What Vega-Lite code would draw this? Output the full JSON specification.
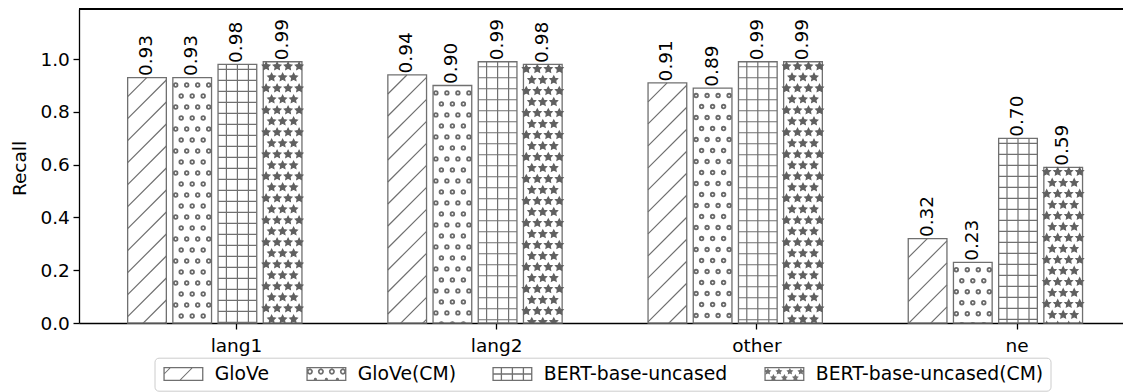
{
  "$schema": "https://vega.github.io/schema/vega-lite/v6.json",
  "width": 1044,
  "height": 314,
  "autosize": {"type": "none"},
  "padding": {"left": 79, "top": 9, "right": 0, "bottom": 69},
  "background": "white",
  "config": {
    "view": {"stroke": null},
    "font": "DejaVu Sans",
    "axis": {
      "labelFont": "DejaVu Sans", "labelFontSize": 18.5, "labelColor": "black",
      "titleFont": "DejaVu Sans", "titleFontSize": 18.5, "titleFontWeight": "normal", "titleColor": "black",
      "tickColor": "black", "tickWidth": 1.3, "tickSize": 6, "domain": true, "domainColor": "black", "domainWidth": 1.3, "grid": false
    }
  },
  "data": {
    "values": [
      {"group": "lang1", "series": "GloVe", "value": 0.93},
      {"group": "lang1", "series": "GloVe(CM)", "value": 0.93},
      {"group": "lang1", "series": "BERT-base-uncased", "value": 0.98},
      {"group": "lang1", "series": "BERT-base-uncased(CM)", "value": 0.99},
      {"group": "lang2", "series": "GloVe", "value": 0.94},
      {"group": "lang2", "series": "GloVe(CM)", "value": 0.90},
      {"group": "lang2", "series": "BERT-base-uncased", "value": 0.99},
      {"group": "lang2", "series": "BERT-base-uncased(CM)", "value": 0.98},
      {"group": "other", "series": "GloVe", "value": 0.91},
      {"group": "other", "series": "GloVe(CM)", "value": 0.89},
      {"group": "other", "series": "BERT-base-uncased", "value": 0.99},
      {"group": "other", "series": "BERT-base-uncased(CM)", "value": 0.99},
      {"group": "ne", "series": "GloVe", "value": 0.32},
      {"group": "ne", "series": "GloVe(CM)", "value": 0.23},
      {"group": "ne", "series": "BERT-base-uncased", "value": 0.70},
      {"group": "ne", "series": "BERT-base-uncased(CM)", "value": 0.59}
    ]
  },
  "layer": [
    {
      "encoding": {
        "x": {
          "field": "group", "type": "nominal",
          "scale": {"domain": ["lang1", "lang2", "other", "ne"], "paddingInner": 0.30515, "paddingOuter": 0.158725, "align": 0.5496, "round": false},
          "axis": {"title": null, "labelAngle": 0, "labelPadding": 7.5, "tickOffset": 21.2}
        },
        "xOffset": {
          "field": "series", "type": "nominal",
          "scale": {"domain": ["GloVe", "GloVe(CM)", "BERT-base-uncased", "BERT-base-uncased(CM)"], "paddingInner": 0.1438, "paddingOuter": 0.0719, "round": false}
        },
        "y": {
          "field": "value", "type": "quantitative",
          "scale": {"domain": [0, 1.19], "nice": false, "zero": true},
          "axis": {"title": "Recall", "values": [0, 0.2, 0.4, 0.6, 0.8, 1.0], "format": ".1f", "labelPadding": 3.7, "titleAngle": 270, "titleX": -54, "titleY": 159, "titleAlign": "center", "titleBaseline": "alphabetic"}
        }
      },
      "layer": [
        {"mark": {"type": "bar", "fill": "white", "stroke": "#707070", "strokeWidth": 1.3}},
        {
          "transform": [{"filter": "datum.series === 'GloVe'"}],
          "mark": {"type": "point", "size": 4, "filled": false, "color": "#707070", "stroke": "#707070", "strokeWidth": 1.2, "opacity": 1, "clip": true,
            "shape": "M-19.35,19.05L-0.3,0M-19.35,41.05l38.7,-38.7m-38.7,60.7l38.7,-38.7m-38.7,60.7l38.7,-38.7m-38.7,60.7l38.7,-38.7m-38.7,60.7l38.7,-38.7m-38.7,60.7l38.7,-38.7m-38.7,60.7l38.7,-38.7m-38.7,60.7l38.7,-38.7m-38.7,60.7l38.7,-38.7m-38.7,60.7l38.7,-38.7m-38.7,60.7l38.7,-38.7m-38.7,60.7l38.7,-38.7m-38.7,60.7"}
        },
        {
          "transform": [{"filter": "datum.series === 'GloVe(CM)'"}],
          "mark": {"type": "point", "size": 4, "filled": false, "color": "#6a6a6a", "stroke": "#6a6a6a", "strokeWidth": 5.4, "strokeDash": [0, 22], "strokeCap": "round", "opacity": 1, "clip": true,
            "shape": "M-16.5,7.4v300M-5.5,7.4v300M5.5,7.4v300M16.5,7.4v300M-11,18.4v300M0,18.4v300M11,18.4v300"}
        },
        {
          "transform": [{"filter": "datum.series === 'GloVe(CM)'"}],
          "mark": {"type": "point", "size": 4, "filled": false, "color": "white", "stroke": "white", "strokeWidth": 1.8, "strokeDash": [0, 22], "strokeCap": "round", "opacity": 1, "clip": true,
            "shape": "M-16.5,7.4v300M-5.5,7.4v300M5.5,7.4v300M16.5,7.4v300M-11,18.4v300M0,18.4v300M11,18.4v300"}
        },
        {
          "transform": [{"filter": "datum.series === 'BERT-base-uncased'"}],
          "mark": {"type": "point", "size": 4, "filled": false, "color": "#707070", "stroke": "#707070", "strokeWidth": 1.2, "opacity": 1, "clip": true,
            "shape": "M-11,0v265M0,0v265M11,0v265M-19.35,5h38.7m-38.7,11h38.7m-38.7,11h38.7m-38.7,11h38.7m-38.7,11h38.7m-38.7,11h38.7m-38.7,11h38.7m-38.7,11h38.7m-38.7,11h38.7m-38.7,11h38.7m-38.7,11h38.7m-38.7,11h38.7m-38.7,11h38.7m-38.7,11h38.7m-38.7,11h38.7m-38.7,11h38.7m-38.7,11h38.7m-38.7,11h38.7m-38.7,11h38.7m-38.7,11h38.7m-38.7,11h38.7m-38.7,11h38.7m-38.7,11h38.7m-38.7,11h38.7"}
        },
        {
          "transform": [{"filter": "datum.series === 'BERT-base-uncased(CM)'"}],
          "mark": {"type": "point", "size": 4, "filled": true, "color": "#606060", "fill": "#606060", "stroke": "#606060", "strokeWidth": 1.1, "opacity": 1, "clip": true,
            "shape": "M-16.5,0.5l1.18,2.38l2.63,0.38l-1.9,1.86l0.45,2.62l-2.36,-1.23l-2.36,1.23l0.45,-2.62l-1.9,-1.86l2.63,-0.38zm11,0l1.18,2.38l2.63,0.38l-1.9,1.86l0.45,2.62l-2.36,-1.23l-2.36,1.23l0.45,-2.62l-1.9,-1.86l2.63,-0.38zm11,0l1.18,2.38l2.63,0.38l-1.9,1.86l0.45,2.62l-2.36,-1.23l-2.36,1.23l0.45,-2.62l-1.9,-1.86l2.63,-0.38zm11,0l1.18,2.38l2.63,0.38l-1.9,1.86l0.45,2.62l-2.36,-1.23l-2.36,1.23l0.45,-2.62l-1.9,-1.86l2.63,-0.38zm-27.5,11l1.18,2.38l2.63,0.38l-1.9,1.86l0.45,2.62l-2.36,-1.23l-2.36,1.23l0.45,-2.62l-1.9,-1.86l2.63,-0.38zm11,0l1.18,2.38l2.63,0.38l-1.9,1.86l0.45,2.62l-2.36,-1.23l-2.36,1.23l0.45,-2.62l-1.9,-1.86l2.63,-0.38zm11,0l1.18,2.38l2.63,0.38l-1.9,1.86l0.45,2.62l-2.36,-1.23l-2.36,1.23l0.45,-2.62l-1.9,-1.86l2.63,-0.38zm-27.5,11l1.18,2.38l2.63,0.38l-1.9,1.86l0.45,2.62l-2.36,-1.23l-2.36,1.23l0.45,-2.62l-1.9,-1.86l2.63,-0.38zm11,0l1.18,2.38l2.63,0.38l-1.9,1.86l0.45,2.62l-2.36,-1.23l-2.36,1.23l0.45,-2.62l-1.9,-1.86l2.63,-0.38zm11,0l1.18,2.38l2.63,0.38l-1.9,1.86l0.45,2.62l-2.36,-1.23l-2.36,1.23l0.45,-2.62l-1.9,-1.86l2.63,-0.38zm11,0l1.18,2.38l2.63,0.38l-1.9,1.86l0.45,2.62l-2.36,-1.23l-2.36,1.23l0.45,-2.62l-1.9,-1.86l2.63,-0.38zm-27.5,11l1.18,2.38l2.63,0.38l-1.9,1.86l0.45,2.62l-2.36,-1.23l-2.36,1.23l0.45,-2.62l-1.9,-1.86l2.63,-0.38zm11,0l1.18,2.38l2.63,0.38l-1.9,1.86l0.45,2.62l-2.36,-1.23l-2.36,1.23l0.45,-2.62l-1.9,-1.86l2.63,-0.38zm11,0l1.18,2.38l2.63,0.38l-1.9,1.86l0.45,2.62l-2.36,-1.23l-2.36,1.23l0.45,-2.62l-1.9,-1.86l2.63,-0.38zm-27.5,11l1.18,2.38l2.63,0.38l-1.9,1.86l0.45,2.62l-2.36,-1.23l-2.36,1.23l0.45,-2.62l-1.9,-1.86l2.63,-0.38zm11,0l1.18,2.38l2.63,0.38l-1.9,1.86l0.45,2.62l-2.36,-1.23l-2.36,1.23l0.45,-2.62l-1.9,-1.86l2.63,-0.38zm11,0l1.18,2.38l2.63,0.38l-1.9,1.86l0.45,2.62l-2.36,-1.23l-2.36,1.23l0.45,-2.62l-1.9,-1.86l2.63,-0.38zm11,0l1.18,2.38l2.63,0.38l-1.9,1.86l0.45,2.62l-2.36,-1.23l-2.36,1.23l0.45,-2.62l-1.9,-1.86l2.63,-0.38zm-27.5,11l1.18,2.38l2.63,0.38l-1.9,1.86l0.45,2.62l-2.36,-1.23l-2.36,1.23l0.45,-2.62l-1.9,-1.86l2.63,-0.38zm11,0l1.18,2.38l2.63,0.38l-1.9,1.86l0.45,2.62l-2.36,-1.23l-2.36,1.23l0.45,-2.62l-1.9,-1.86l2.63,-0.38zm11,0l1.18,2.38l2.63,0.38l-1.9,1.86l0.45,2.62l-2.36,-1.23l-2.36,1.23l0.45,-2.62l-1.9,-1.86l2.63,-0.38zm-27.5,11M-16.5,66.5l1.18,2.38l2.63,0.38l-1.9,1.86l0.45,2.62l-2.36,-1.23l-2.36,1.23l0.45,-2.62l-1.9,-1.86l2.63,-0.38zm11,0l1.18,2.38l2.63,0.38l-1.9,1.86l0.45,2.62l-2.36,-1.23l-2.36,1.23l0.45,-2.62l-1.9,-1.86l2.63,-0.38zm11,0l1.18,2.38l2.63,0.38l-1.9,1.86l0.45,2.62l-2.36,-1.23l-2.36,1.23l0.45,-2.62l-1.9,-1.86l2.63,-0.38zm11,0l1.18,2.38l2.63,0.38l-1.9,1.86l0.45,2.62l-2.36,-1.23l-2.36,1.23l0.45,-2.62l-1.9,-1.86l2.63,-0.38zm-27.5,11l1.18,2.38l2.63,0.38l-1.9,1.86l0.45,2.62l-2.36,-1.23l-2.36,1.23l0.45,-2.62l-1.9,-1.86l2.63,-0.38zm11,0l1.18,2.38l2.63,0.38l-1.9,1.86l0.45,2.62l-2.36,-1.23l-2.36,1.23l0.45,-2.62l-1.9,-1.86l2.63,-0.38zm11,0l1.18,2.38l2.63,0.38l-1.9,1.86l0.45,2.62l-2.36,-1.23l-2.36,1.23l0.45,-2.62l-1.9,-1.86l2.63,-0.38zm-27.5,11l1.18,2.38l2.63,0.38l-1.9,1.86l0.45,2.62l-2.36,-1.23l-2.36,1.23l0.45,-2.62l-1.9,-1.86l2.63,-0.38zm11,0l1.18,2.38l2.63,0.38l-1.9,1.86l0.45,2.62l-2.36,-1.23l-2.36,1.23l0.45,-2.62l-1.9,-1.86l2.63,-0.38zm11,0l1.18,2.38l2.63,0.38l-1.9,1.86l0.45,2.62l-2.36,-1.23l-2.36,1.23l0.45,-2.62l-1.9,-1.86l2.63,-0.38zm11,0l1.18,2.38l2.63,0.38l-1.9,1.86l0.45,2.62l-2.36,-1.23l-2.36,1.23l0.45,-2.62l-1.9,-1.86l2.63,-0.38zm-27.5,11l1.18,2.38l2.63,0.38l-1.9,1.86l0.45,2.62l-2.36,-1.23l-2.36,1.23l0.45,-2.62l-1.9,-1.86l2.63,-0.38zm11,0l1.18,2.38l2.63,0.38l-1.9,1.86l0.45,2.62l-2.36,-1.23l-2.36,1.23l0.45,-2.62l-1.9,-1.86l2.63,-0.38zm11,0l1.18,2.38l2.63,0.38l-1.9,1.86l0.45,2.62l-2.36,-1.23l-2.36,1.23l0.45,-2.62l-1.9,-1.86l2.63,-0.38zm-27.5,11l1.18,2.38l2.63,0.38l-1.9,1.86l0.45,2.62l-2.36,-1.23l-2.36,1.23l0.45,-2.62l-1.9,-1.86l2.63,-0.38zm11,0l1.18,2.38l2.63,0.38l-1.9,1.86l0.45,2.62l-2.36,-1.23l-2.36,1.23l0.45,-2.62l-1.9,-1.86l2.63,-0.38zm11,0l1.18,2.38l2.63,0.38l-1.9,1.86l0.45,2.62l-2.36,-1.23l-2.36,1.23l0.45,-2.62l-1.9,-1.86l2.63,-0.38zm11,0l1.18,2.38l2.63,0.38l-1.9,1.86l0.45,2.62l-2.36,-1.23l-2.36,1.23l0.45,-2.62l-1.9,-1.86l2.63,-0.38zm-27.5,11l1.18,2.38l2.63,0.38l-1.9,1.86l0.45,2.62l-2.36,-1.23l-2.36,1.23l0.45,-2.62l-1.9,-1.86l2.63,-0.38zm11,0l1.18,2.38l2.63,0.38l-1.9,1.86l0.45,2.62l-2.36,-1.23l-2.36,1.23l0.45,-2.62l-1.9,-1.86l2.63,-0.38zm11,0l1.18,2.38l2.63,0.38l-1.9,1.86l0.45,2.62l-2.36,-1.23l-2.36,1.23l0.45,-2.62l-1.9,-1.86l2.63,-0.38zm-27.5,11M-16.5,132.5l1.18,2.38l2.63,0.38l-1.9,1.86l0.45,2.62l-2.36,-1.23l-2.36,1.23l0.45,-2.62l-1.9,-1.86l2.63,-0.38zm11,0l1.18,2.38l2.63,0.38l-1.9,1.86l0.45,2.62l-2.36,-1.23l-2.36,1.23l0.45,-2.62l-1.9,-1.86l2.63,-0.38zm11,0l1.18,2.38l2.63,0.38l-1.9,1.86l0.45,2.62l-2.36,-1.23l-2.36,1.23l0.45,-2.62l-1.9,-1.86l2.63,-0.38zm11,0l1.18,2.38l2.63,0.38l-1.9,1.86l0.45,2.62l-2.36,-1.23l-2.36,1.23l0.45,-2.62l-1.9,-1.86l2.63,-0.38zm-27.5,11l1.18,2.38l2.63,0.38l-1.9,1.86l0.45,2.62l-2.36,-1.23l-2.36,1.23l0.45,-2.62l-1.9,-1.86l2.63,-0.38zm11,0l1.18,2.38l2.63,0.38l-1.9,1.86l0.45,2.62l-2.36,-1.23l-2.36,1.23l0.45,-2.62l-1.9,-1.86l2.63,-0.38zm11,0l1.18,2.38l2.63,0.38l-1.9,1.86l0.45,2.62l-2.36,-1.23l-2.36,1.23l0.45,-2.62l-1.9,-1.86l2.63,-0.38zm-27.5,11l1.18,2.38l2.63,0.38l-1.9,1.86l0.45,2.62l-2.36,-1.23l-2.36,1.23l0.45,-2.62l-1.9,-1.86l2.63,-0.38zm11,0l1.18,2.38l2.63,0.38l-1.9,1.86l0.45,2.62l-2.36,-1.23l-2.36,1.23l0.45,-2.62l-1.9,-1.86l2.63,-0.38zm11,0l1.18,2.38l2.63,0.38l-1.9,1.86l0.45,2.62l-2.36,-1.23l-2.36,1.23l0.45,-2.62l-1.9,-1.86l2.63,-0.38zm11,0l1.18,2.38l2.63,0.38l-1.9,1.86l0.45,2.62l-2.36,-1.23l-2.36,1.23l0.45,-2.62l-1.9,-1.86l2.63,-0.38zm-27.5,11l1.18,2.38l2.63,0.38l-1.9,1.86l0.45,2.62l-2.36,-1.23l-2.36,1.23l0.45,-2.62l-1.9,-1.86l2.63,-0.38zm11,0l1.18,2.38l2.63,0.38l-1.9,1.86l0.45,2.62l-2.36,-1.23l-2.36,1.23l0.45,-2.62l-1.9,-1.86l2.63,-0.38zm11,0l1.18,2.38l2.63,0.38l-1.9,1.86l0.45,2.62l-2.36,-1.23l-2.36,1.23l0.45,-2.62l-1.9,-1.86l2.63,-0.38zm-27.5,11l1.18,2.38l2.63,0.38l-1.9,1.86l0.45,2.62l-2.36,-1.23l-2.36,1.23l0.45,-2.62l-1.9,-1.86l2.63,-0.38zm11,0l1.18,2.38l2.63,0.38l-1.9,1.86l0.45,2.62l-2.36,-1.23l-2.36,1.23l0.45,-2.62l-1.9,-1.86l2.63,-0.38zm11,0l1.18,2.38l2.63,0.38l-1.9,1.86l0.45,2.62l-2.36,-1.23l-2.36,1.23l0.45,-2.62l-1.9,-1.86l2.63,-0.38zm11,0l1.18,2.38l2.63,0.38l-1.9,1.86l0.45,2.62l-2.36,-1.23l-2.36,1.23l0.45,-2.62l-1.9,-1.86l2.63,-0.38zm-27.5,11l1.18,2.38l2.63,0.38l-1.9,1.86l0.45,2.62l-2.36,-1.23l-2.36,1.23l0.45,-2.62l-1.9,-1.86l2.63,-0.38zm11,0l1.18,2.38l2.63,0.38l-1.9,1.86l0.45,2.62l-2.36,-1.23l-2.36,1.23l0.45,-2.62l-1.9,-1.86l2.63,-0.38zm11,0l1.18,2.38l2.63,0.38l-1.9,1.86l0.45,2.62l-2.36,-1.23l-2.36,1.23l0.45,-2.62l-1.9,-1.86l2.63,-0.38zm-27.5,11M-16.5,198.5l1.18,2.38l2.63,0.38l-1.9,1.86l0.45,2.62l-2.36,-1.23l-2.36,1.23l0.45,-2.62l-1.9,-1.86l2.63,-0.38zm11,0l1.18,2.38l2.63,0.38l-1.9,1.86l0.45,2.62l-2.36,-1.23l-2.36,1.23l0.45,-2.62l-1.9,-1.86l2.63,-0.38zm11,0l1.18,2.38l2.63,0.38l-1.9,1.86l0.45,2.62l-2.36,-1.23l-2.36,1.23l0.45,-2.62l-1.9,-1.86l2.63,-0.38zm11,0l1.18,2.38l2.63,0.38l-1.9,1.86l0.45,2.62l-2.36,-1.23l-2.36,1.23l0.45,-2.62l-1.9,-1.86l2.63,-0.38zm-27.5,11l1.18,2.38l2.63,0.38l-1.9,1.86l0.45,2.62l-2.36,-1.23l-2.36,1.23l0.45,-2.62l-1.9,-1.86l2.63,-0.38zm11,0l1.18,2.38l2.63,0.38l-1.9,1.86l0.45,2.62l-2.36,-1.23l-2.36,1.23l0.45,-2.62l-1.9,-1.86l2.63,-0.38zm11,0l1.18,2.38l2.63,0.38l-1.9,1.86l0.45,2.62l-2.36,-1.23l-2.36,1.23l0.45,-2.62l-1.9,-1.86l2.63,-0.38zm-27.5,11l1.18,2.38l2.63,0.38l-1.9,1.86l0.45,2.62l-2.36,-1.23l-2.36,1.23l0.45,-2.62l-1.9,-1.86l2.63,-0.38zm11,0l1.18,2.38l2.63,0.38l-1.9,1.86l0.45,2.62l-2.36,-1.23l-2.36,1.23l0.45,-2.62l-1.9,-1.86l2.63,-0.38zm11,0l1.18,2.38l2.63,0.38l-1.9,1.86l0.45,2.62l-2.36,-1.23l-2.36,1.23l0.45,-2.62l-1.9,-1.86l2.63,-0.38zm11,0l1.18,2.38l2.63,0.38l-1.9,1.86l0.45,2.62l-2.36,-1.23l-2.36,1.23l0.45,-2.62l-1.9,-1.86l2.63,-0.38zm-27.5,11l1.18,2.38l2.63,0.38l-1.9,1.86l0.45,2.62l-2.36,-1.23l-2.36,1.23l0.45,-2.62l-1.9,-1.86l2.63,-0.38zm11,0l1.18,2.38l2.63,0.38l-1.9,1.86l0.45,2.62l-2.36,-1.23l-2.36,1.23l0.45,-2.62l-1.9,-1.86l2.63,-0.38zm11,0l1.18,2.38l2.63,0.38l-1.9,1.86l0.45,2.62l-2.36,-1.23l-2.36,1.23l0.45,-2.62l-1.9,-1.86l2.63,-0.38zm-27.5,11l1.18,2.38l2.63,0.38l-1.9,1.86l0.45,2.62l-2.36,-1.23l-2.36,1.23l0.45,-2.62l-1.9,-1.86l2.63,-0.38zm11,0l1.18,2.38l2.63,0.38l-1.9,1.86l0.45,2.62l-2.36,-1.23l-2.36,1.23l0.45,-2.62l-1.9,-1.86l2.63,-0.38zm11,0l1.18,2.38l2.63,0.38l-1.9,1.86l0.45,2.62l-2.36,-1.23l-2.36,1.23l0.45,-2.62l-1.9,-1.86l2.63,-0.38zm11,0l1.18,2.38l2.63,0.38l-1.9,1.86l0.45,2.62l-2.36,-1.23l-2.36,1.23l0.45,-2.62l-1.9,-1.86l2.63,-0.38zm-27.5,11l1.18,2.38l2.63,0.38l-1.9,1.86l0.45,2.62l-2.36,-1.23l-2.36,1.23l0.45,-2.62l-1.9,-1.86l2.63,-0.38zm11,0l1.18,2.38l2.63,0.38l-1.9,1.86l0.45,2.62l-2.36,-1.23l-2.36,1.23l0.45,-2.62l-1.9,-1.86l2.63,-0.38zm11,0l1.18,2.38l2.63,0.38l-1.9,1.86l0.45,2.62l-2.36,-1.23l-2.36,1.23l0.45,-2.62l-1.9,-1.86l2.63,-0.38zm-27.5,11"}
        },
        {
          "mark": {"type": "text", "angle": 270, "align": "left", "baseline": "middle", "dx": 1.5, "dy": -1, "fontSize": 18.5, "font": "DejaVu Sans", "color": "black"},
          "encoding": {"text": {"field": "value", "type": "quantitative", "format": ".2f"}}
        },
        {
          "transform": [{"filter": "false"}],
          "mark": {"type": "point", "filled": true, "opacity": 1, "color": "#707070"},
          "encoding": {
            "shape": {
              "field": "series", "type": "nominal",
              "scale": {
                "domain": ["GloVe", "GloVe(CM)", "BERT-base-uncased", "BERT-base-uncased(CM)"],
                "range": [
                  "M-1,-1H4.7143V1H-1ZM-0.8143,-0.8143V0.8143H4.5286V-0.8143ZM-0.8143,-0.1857L-0.1857,-0.8143L0.0143,-0.8143L-0.8143,0.0143ZM1.3286,0.8143L2.9571,-0.8143L3.1571,-0.8143L1.5286,0.8143Z",
                  "M-1,-1H4.7143V1H-1ZM-0.8143,-0.8143V0.8143H4.5286V-0.8143ZM-0.9286,-0.3429a0.4286,0.4286 0 1,1 0.8571,0a0.4286,0.4286 0 1,1 -0.8571,0ZM-0.6857,-0.3429a0.1857,0.1857 0 1,0 0.3714,0a0.1857,0.1857 0 1,0 -0.3714,0ZM0.6428,-0.3429a0.4286,0.4286 0 1,1 0.8571,0a0.4286,0.4286 0 1,1 -0.8571,0ZM0.8857,-0.3429a0.1857,0.1857 0 1,0 0.3714,0a0.1857,0.1857 0 1,0 -0.3714,0ZM2.2143,-0.3429a0.4286,0.4286 0 1,1 0.8571,0a0.4286,0.4286 0 1,1 -0.8571,0ZM2.4572,-0.3429a0.1857,0.1857 0 1,0 0.3714,0a0.1857,0.1857 0 1,0 -0.3714,0ZM3.7857,-0.3429a0.4286,0.4286 0 1,1 0.8571,0a0.4286,0.4286 0 1,1 -0.8571,0ZM4.0286,-0.3429a0.1857,0.1857 0 1,0 0.3714,0a0.1857,0.1857 0 1,0 -0.3714,0ZM0.0571,0.7714a0.2286,0.2286 0 1,1 0.4571,0a0.2286,0.2286 0 1,1 -0.4571,0ZM1.6285,0.7714a0.2286,0.2286 0 1,1 0.4571,0a0.2286,0.2286 0 1,1 -0.4571,0ZM3.2,0.7714a0.2286,0.2286 0 1,1 0.4571,0a0.2286,0.2286 0 1,1 -0.4571,0Z",
                  "M-1,-1H4.7143V1H-1ZM-0.8143,-0.8143V0.8143H4.5286V-0.8143ZM0.1929,-0.8143h0.1857v1.6286h-0.1857ZM1.7643,-0.8143h0.1857v1.6286h-0.1857ZM3.3357,-0.8143h0.1857v1.6286h-0.1857ZM-0.8143,-0.0929h5.3429v0.1857h-5.3429Z",
                  "M-1,-1H4.7143V1H-1ZM-0.8143,-0.8143V0.8143H4.5286V-0.8143ZM-0.5,-0.8714l0.1557,0.3143l0.3471,0.05l-0.2514,0.2457l0.06,0.3457l-0.3114,-0.1629l-0.3114,0.1629l0.06,-0.3457l-0.2514,-0.2457l0.3471,-0.05zm1.5714,0l0.1557,0.3143l0.3471,0.05l-0.2514,0.2457l0.06,0.3457l-0.3114,-0.1629l-0.3114,0.1629l0.06,-0.3457l-0.2514,-0.2457l0.3471,-0.05zm1.5714,0l0.1557,0.3143l0.3471,0.05l-0.2514,0.2457l0.06,0.3457l-0.3114,-0.1629l-0.3114,0.1629l0.06,-0.3457l-0.2514,-0.2457l0.3471,-0.05zm1.5714,0l0.1557,0.3143l0.3471,0.05l-0.2514,0.2457l0.06,0.3457l-0.3114,-0.1629l-0.3114,0.1629l0.06,-0.3457l-0.2514,-0.2457l0.3471,-0.05zM0.2857,0.0143l0.1557,0.3143l0.3471,0.05l-0.2514,0.2457l0.06,0.3457l-0.3114,-0.1629l-0.3114,0.1629l0.06,-0.3457l-0.2514,-0.2457l0.3471,-0.05zm1.5714,0l0.1557,0.3143l0.3471,0.05l-0.2514,0.2457l0.06,0.3457l-0.3114,-0.1629l-0.3114,0.1629l0.06,-0.3457l-0.2514,-0.2457l0.3471,-0.05zm1.5714,0l0.1557,0.3143l0.3471,0.05l-0.2514,0.2457l0.06,0.3457l-0.3114,-0.1629l-0.3114,0.1629l0.06,-0.3457l-0.2514,-0.2457l0.3471,-0.05z"
                ]
              },
              "legend": {
                "title": null, "orient": "none", "legendX": 75.5, "legendY": 348.7, "direction": "horizontal", "columns": 4,
                "columnPadding": 34, "rowPadding": 0, "labelOffset": 35, "padding": 6.5,
                "strokeColor": "#cccccc", "fillColor": "white", "cornerRadius": 4,
                "symbolSize": 196, "symbolStrokeWidth": 0, "symbolFillColor": "#707070", "symbolOpacity": 1,
                "labelFont": "DejaVu Sans", "labelFontSize": 18.8, "labelColor": "black", "labelLimit": 400
              }
            }
          }
        }
      ]
    },
    {
      "mark": {"type": "rule", "color": "black", "strokeWidth": 1.3},
      "encoding": {"y": {"datum": 1.19, "type": "quantitative"}}
    }
  ]
}
